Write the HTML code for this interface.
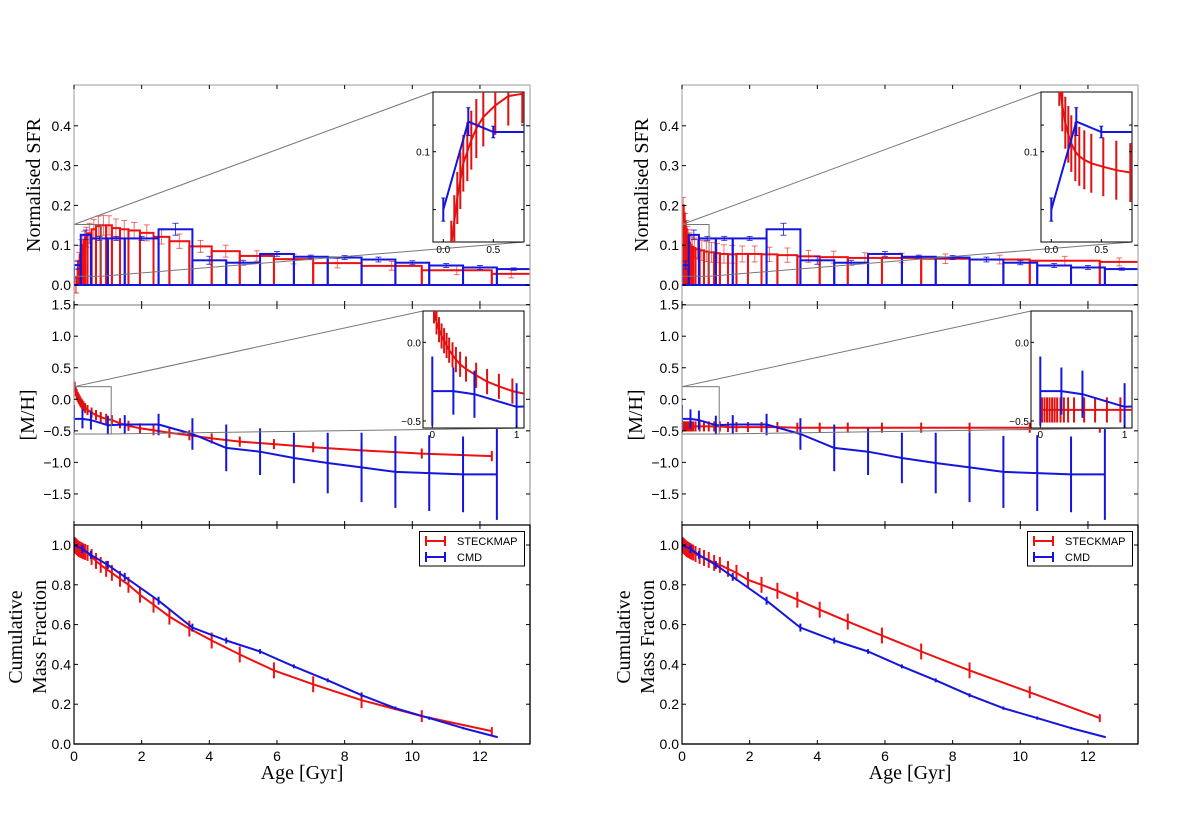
<!DOCTYPE html>
<html><head><meta charset="utf-8"><style>
html,body{margin:0;padding:0;background:#fff;}
svg{display:block;}
text{font-family:"Liberation Sans",sans-serif;}
.lab{font-family:"Liberation Serif",serif;font-size:20px;fill:#000;}
.tk{font-size:14px;fill:#000;}
.itk{font-size:10px;fill:#000;}
</style></head><body>
<svg id="fig" width="1200" height="829" viewBox="0 0 1200 829" xmlns="http://www.w3.org/2000/svg">
<defs>
<clipPath id="cp1"><rect x="74" y="85" width="456" height="219"/></clipPath>
<clipPath id="cp2"><rect x="74" y="305" width="456" height="220"/></clipPath>
<clipPath id="cp3"><rect x="74" y="525" width="456" height="219"/></clipPath>
<clipPath id="cp1r"><rect x="682" y="85" width="456" height="219"/></clipPath>
<clipPath id="cp2r"><rect x="682" y="305" width="456" height="220"/></clipPath>
<clipPath id="cp3r"><rect x="682" y="525" width="456" height="219"/></clipPath>
<clipPath id="ci1"><rect x="433" y="92" width="91" height="150"/></clipPath>
<clipPath id="ci2"><rect x="423" y="311" width="101" height="117"/></clipPath>
<clipPath id="ci1r"><rect x="1041" y="92" width="91" height="150"/></clipPath>
<clipPath id="ci2r"><rect x="1031" y="311" width="101" height="117"/></clipPath>
</defs>
</svg>
<script>
// ---- data ----
const redAges=[0.02,0.05,0.08,0.11,0.14,0.17,0.2,0.24,0.28,0.33,0.4,0.52,0.65,0.79,0.95,1.12,1.36,1.61,1.95,2.35,2.82,3.41,4.07,4.9,5.91,7.07,8.5,10.28,12.35];
const redSfrL=[0.0,0.0,0.02,0.04,0.06,0.075,0.09,0.1,0.11,0.12,0.13,0.14,0.148,0.15,0.15,0.143,0.14,0.137,0.131,0.121,0.11,0.097,0.085,0.073,0.065,0.055,0.048,0.037,0.028];
const redSfrR=[0.2,0.18,0.16,0.14,0.125,0.115,0.107,0.1,0.096,0.093,0.09,0.087,0.084,0.082,0.08,0.078,0.077,0.078,0.078,0.077,0.075,0.072,0.07,0.068,0.068,0.066,0.064,0.061,0.058];
const redSfrErr=[0.02,0.02,0.02,0.022,0.022,0.024,0.024,0.025,0.025,0.025,0.025,0.025,0.025,0.025,0.024,0.023,0.022,0.02,0.02,0.018,0.018,0.015,0.015,0.013,0.012,0.012,0.011,0.011,0.01];
const redMHL=[0.2,0.13,0.08,0.04,0.01,-0.02,-0.05,-0.08,-0.11,-0.14,-0.17,-0.21,-0.25,-0.28,-0.31,-0.33,-0.38,-0.42,-0.46,-0.49,-0.53,-0.57,-0.62,-0.67,-0.71,-0.76,-0.81,-0.86,-0.9];
const redMHR=[-0.43,-0.43,-0.43,-0.43,-0.43,-0.43,-0.43,-0.43,-0.43,-0.43,-0.43,-0.43,-0.43,-0.43,-0.43,-0.43,-0.44,-0.44,-0.44,-0.44,-0.44,-0.45,-0.45,-0.45,-0.45,-0.45,-0.45,-0.45,-0.45];
const redMHErr=[0.08,0.08,0.08,0.08,0.08,0.08,0.08,0.08,0.08,0.08,0.08,0.08,0.08,0.08,0.08,0.08,0.08,0.08,0.08,0.08,0.08,0.08,0.08,0.08,0.08,0.08,0.08,0.08,0.08];
const redCumL=[1.0,0.995,0.99,0.985,0.98,0.978,0.975,0.972,0.968,0.965,0.96,0.94,0.92,0.9,0.88,0.86,0.83,0.8,0.75,0.7,0.64,0.58,0.52,0.45,0.37,0.3,0.22,0.14,0.065];
const redCumR=[1.0,0.995,0.99,0.985,0.98,0.977,0.974,0.97,0.966,0.962,0.955,0.945,0.935,0.925,0.91,0.9,0.88,0.86,0.825,0.8,0.77,0.725,0.675,0.615,0.545,0.465,0.37,0.26,0.13];
const redCumErr=[0.04,0.04,0.04,0.04,0.04,0.04,0.04,0.04,0.04,0.04,0.04,0.04,0.04,0.04,0.04,0.04,0.04,0.04,0.04,0.04,0.04,0.04,0.04,0.04,0.04,0.04,0.04,0.03,0.02];
const cmdEdges=[0,0.2,0.5,1,1.5,2.5,3.5,4.5,5.5,6.5,7.5,8.5,9.5,10.5,11.5,12.5,13.5];
const cmdSfr=[0.05,0.126,0.117,0.117,0.117,0.14,0.062,0.056,0.078,0.071,0.069,0.064,0.056,0.049,0.044,0.04];
const cmdSfrErr=[0.01,0.012,0.005,0.005,0.005,0.015,0.01,0.006,0.006,0.004,0.005,0.006,0.005,0.005,0.005,0.003];
const cmdAges=[0,0.25,0.5,1,1.5,2.5,3.5,4.5,5.5,6.5,7.5,8.5,9.5,10.5,11.5,12.5];
const cmdMH=[-0.31,-0.31,-0.33,-0.41,-0.4,-0.4,-0.55,-0.77,-0.83,-0.93,-1.01,-1.08,-1.15,-1.17,-1.19,-1.19];
const cmdMHErr=[0.22,0.15,0.15,0.15,0.15,0.17,0.25,0.37,0.37,0.4,0.48,0.55,0.57,0.6,0.6,0.72];
const cmdCum=[1.0,0.98,0.95,0.9,0.84,0.72,0.585,0.52,0.465,0.39,0.32,0.245,0.18,0.13,0.08,0.035];
const cmdCumErr=[0.03,0.02,0.02,0.02,0.02,0.02,0.02,0.015,0.012,0.01,0.01,0.01,0.008,0.008,0.006,0.004];
const xTicks=[0,2,4,6,8,10,12];
const sfrTicks=[0,0.1,0.2,0.3,0.4];
const mhTicks=[1.5,1.0,0.5,0.0,-0.5,-1.0,-1.5];
const cumTicks=[0,0.2,0.4,0.6,0.8,1.0];

const svg=document.getElementById('fig');
const NS='http://www.w3.org/2000/svg';
function el(tag,at,parent){const e=document.createElementNS(NS,tag);for(const k in at)e.setAttribute(k,at[k]);(parent||svg).appendChild(e);return e;}
const RED='#ee1111',BLUE='#1515dd';

function fmt(v,d){return (v<0?'\u2212':'')+Math.abs(v).toFixed(d);}

function errbar(g,x,y1,y2,col,w,cap,op){
  el('line',{x1:x,y1:y1,x2:x,y2:y2,stroke:col,'stroke-width':w,'stroke-opacity':op},g);
  el('line',{x1:x-cap,y1:y1,x2:x+cap,y2:y1,stroke:col,'stroke-width':1,'stroke-opacity':op},g);
  el('line',{x1:x-cap,y1:y2,x2:x+cap,y2:y2,stroke:col,'stroke-width':1,'stroke-opacity':op},g);
}
function polyline(g,xs,ys,col,w){
  let p=xs.map((x,i)=>x.toFixed(1)+','+ys[i].toFixed(1)).join(' ');
  el('polyline',{points:p,fill:'none',stroke:col,'stroke-width':w,'stroke-linejoin':'round'},g);
}

function drawFigure(ox,side){
  const suf=side==='L'?'':'r';
  const X=a=>ox+74+a*33.83;
  const Y1=v=>285-v*398;
  const Y2=v=>399.3-v*63.1;
  const Y3=v=>744-v*199;
  const redSfr=side==='L'?redSfrL:redSfrR;
  const redMH=side==='L'?redMHL:redMHR;
  const redCum=side==='L'?redCumL:redCumR;
  const fig=el('g',{});
  
  

  // ---------- panel 1: SFR ----------
  const p1=el('g',{'clip-path':'url(#cp1'+suf+')'},fig);
  
  
  redAges.forEach((a,i)=>{
    const a2=i<redAges.length-1?redAges[i+1]:13.5;
    const r=el('rect',{x:X(a),y:Y1(redSfr[i]),width:X(a2)-X(a),height:Y1(0)-Y1(redSfr[i]),fill:'none',stroke:RED,'stroke-width':2},p1);
    
    
    const m=(X(a)+X(a2))/2;
    errbar(p1,m,Y1(redSfr[i]+redSfrErr[i]),Y1(redSfr[i]-redSfrErr[i]),RED,1,3,0.6);
  });
  cmdSfr.forEach((v,i)=>{
    const r=el('rect',{x:X(cmdEdges[i]),y:Y1(v),width:X(cmdEdges[i+1])-X(cmdEdges[i]),height:Y1(0)-Y1(v),fill:'none',stroke:BLUE,'stroke-width':2},p1);
    
    
    const m=(X(cmdEdges[i])+X(cmdEdges[i+1]))/2;
    errbar(p1,m,Y1(v+cmdSfrErr[i]),Y1(v-cmdSfrErr[i]),BLUE,1,3,0.8);
  });
  // inset 1
  const ix1=ox+433, iy1=92, iw1=91, ih1=150;
  const IX1=a=>ox+443.3+a*100, IY1=v=>151.7-(v-0.1)*1158;
  const bl=el('rect',{x:X(0),y:Y1(0.152),width:X(0.8)-X(0),height:Y1(0.022)-Y1(0.152),fill:'none',stroke:'#777','stroke-width':1},fig);
  
  
  el('line',{x1:X(0),y1:Y1(0.152),x2:ix1,y2:iy1,stroke:'#777','stroke-width':1},fig);
  el('line',{x1:X(0.8),y1:Y1(0.022),x2:ix1+iw1,y2:iy1+ih1,stroke:'#777','stroke-width':1},fig);
  const ib1=el('rect',{x:ix1,y:iy1,width:iw1,height:ih1,fill:'#fff',stroke:'#000','stroke-width':1},fig);
  
  
  const ig1=el('g',{'clip-path':'url(#ci1'+suf+')'},fig);
  polyline(ig1,redAges.map(IX1),redSfr.map(IY1),RED,2);
  redAges.forEach((a,i)=>errbar(ig1,IX1(a),IY1(redSfr[i]+redSfrErr[i]),IY1(redSfr[i]-redSfrErr[i]),'#dd1111',2,1,1));
  const cmdPt=cmdAges.map(a=>{for(let i=0;i<cmdSfr.length;i++){if(a>=cmdEdges[i]&&a<cmdEdges[i+1])return cmdSfr[i];}return cmdSfr[cmdSfr.length-1];});
  polyline(ig1,cmdAges.map(IX1),cmdPt.map(IY1),BLUE,2);
  cmdAges.forEach((a,i)=>errbar(ig1,IX1(a),IY1(cmdPt[i]+cmdSfrErr[i]),IY1(cmdPt[i]-cmdSfrErr[i]),BLUE,2,2,1));
  [0,0.5].forEach(t=>{
    el('line',{x1:IX1(t),y1:iy1+ih1,x2:IX1(t),y2:iy1+ih1-3,stroke:'#000'},fig);
    const tt=el('text',{x:IX1(t),y:iy1+ih1+11,'text-anchor':'middle',class:'itk'},fig);tt.textContent=t.toFixed(1);
  });
  [0.05,0.1,0.123].forEach(t=>{
    el('line',{x1:ix1,y1:IY1(t),x2:ix1+3,y2:IY1(t),stroke:'#000'},fig);
    el('line',{x1:ix1+iw1,y1:IY1(t),x2:ix1+iw1-3,y2:IY1(t),stroke:'#000'},fig);
  });
  const it1=el('text',{x:ix1-3,y:IY1(0.1)+4,'text-anchor':'end',class:'itk'},fig);it1.textContent='0.1';

  // ---------- panel 2: [M/H] ----------
  const p2=el('g',{'clip-path':'url(#cp2'+suf+')'},fig);
  
  
  polyline(p2,redAges.map(X),redMH.map(Y2),RED,2);
  redAges.forEach((a,i)=>errbar(p2,X(a),Y2(redMH[i]+redMHErr[i]),Y2(redMH[i]-redMHErr[i]),'#dd1111',2,0,1));
  polyline(p2,cmdAges.map(X),cmdMH.map(Y2),BLUE,2);
  cmdAges.forEach((a,i)=>errbar(p2,X(a),Y2(cmdMH[i]+cmdMHErr[i]),Y2(cmdMH[i]-cmdMHErr[i]),BLUE,2,0,1));
  const ix2=ox+423, iy2=311, iw2=101, ih2=117;
  const IX2=a=>ox+432.3+a*84.3, IY2=v=>342.3-v*157.3;
  const bl2=el('rect',{x:X(0),y:Y2(0.2),width:X(1.1)-X(0),height:Y2(-0.55)-Y2(0.2),fill:'none',stroke:'#777','stroke-width':1},fig);
  
  
  el('line',{x1:X(0),y1:Y2(0.2),x2:ix2,y2:iy2,stroke:'#777','stroke-width':1},fig);
  el('line',{x1:X(1.1),y1:Y2(-0.55),x2:ix2+iw2,y2:iy2+ih2,stroke:'#777','stroke-width':1},fig);
  const ib2=el('rect',{x:ix2,y:iy2,width:iw2,height:ih2,fill:'#fff',stroke:'#000','stroke-width':1},fig);
  
  
  const ig2=el('g',{'clip-path':'url(#ci2'+suf+')'},fig);
  polyline(ig2,redAges.map(IX2),redMH.map(IY2),RED,2);
  redAges.forEach((a,i)=>errbar(ig2,IX2(a),IY2(redMH[i]+redMHErr[i]),IY2(redMH[i]-redMHErr[i]),'#dd1111',2,0,1));
  polyline(ig2,cmdAges.map(IX2),cmdMH.map(IY2),BLUE,2);
  cmdAges.forEach((a,i)=>errbar(ig2,IX2(a),IY2(cmdMH[i]+cmdMHErr[i]),IY2(cmdMH[i]-cmdMHErr[i]),BLUE,2,0,1));
  [0,1].forEach(t=>{
    el('line',{x1:IX2(t),y1:iy2+ih2,x2:IX2(t),y2:iy2+ih2-3,stroke:'#000'},fig);
    const tt=el('text',{x:IX2(t),y:iy2+ih2+10,'text-anchor':'middle',class:'itk'},fig);tt.textContent=String(t);
  });
  [0,-0.5].forEach(t=>{
    el('line',{x1:ix2,y1:IY2(t),x2:ix2+3,y2:IY2(t),stroke:'#000'},fig);
    const tt=el('text',{x:ix2-2,y:IY2(t)+4,'text-anchor':'end',class:'itk'},fig);tt.textContent=fmt(t,1);
  });

  // ---------- panel 3: cumulative ----------
  const p3=el('g',{'clip-path':'url(#cp3'+suf+')'},fig);
  
  
  polyline(p3,redAges.map(X),redCum.map(Y3),RED,2);
  redAges.forEach((a,i)=>errbar(p3,X(a),Y3(redCum[i]+redCumErr[i]),Y3(redCum[i]-redCumErr[i]),RED,2,0,1));
  polyline(p3,cmdAges.map(X),cmdCum.map(Y3),BLUE,2);
  cmdAges.forEach((a,i)=>errbar(p3,X(a),Y3(cmdCum[i]+cmdCumErr[i]),Y3(cmdCum[i]-cmdCumErr[i]),BLUE,2,0,1));

  // ---------- axes frames & ticks ----------
  const L=X(0), R=ox+530;
  const frames=[[85,305,'#aaa'],[305,525,'#999'],[525,744,'#000']];
  frames.forEach(f=>el('rect',{x:L,y:f[0],width:R-L,height:f[1]-f[0],fill:'none',stroke:f[2],'stroke-width':1.2},fig));
  el('line',{x1:L,y1:744,x2:R,y2:744,stroke:'#000','stroke-width':1.2},fig);
  el('line',{x1:R,y1:525,x2:R,y2:744,stroke:'#000','stroke-width':1.2},fig);
  [[85,305],[305,525],[525,744]].forEach(f=>{
    xTicks.forEach(t=>{
      el('line',{x1:X(t),y1:f[0],x2:X(t),y2:f[0]+4,stroke:'#000'},fig);
      el('line',{x1:X(t),y1:f[1],x2:X(t),y2:f[1]-4,stroke:'#000'},fig);
    });
  });
  xTicks.forEach(t=>{const tt=el('text',{x:X(t),y:761,'text-anchor':'middle',class:'tk'},fig);tt.textContent=String(t);});
  const yt=(ticks,Y,d)=>ticks.forEach(t=>{
    el('line',{x1:L,y1:Y(t),x2:L+4,y2:Y(t),stroke:'#000'},fig);
    el('line',{x1:R,y1:Y(t),x2:R-4,y2:Y(t),stroke:'#000'},fig);
    const tt=el('text',{x:L-3,y:Y(t)+5,'text-anchor':'end',class:'tk'},fig);tt.textContent=fmt(t,d);
  });
  yt(sfrTicks,Y1,1);yt(mhTicks,Y2,1);yt(cumTicks,Y3,1);

  // labels
  const l1=el('text',{x:0,y:0,class:'lab','text-anchor':'middle',transform:`translate(${ox+40},185) rotate(-90)`},fig);l1.textContent='Normalised SFR';
  
  const l2=el('text',{x:0,y:0,class:'lab','text-anchor':'middle',transform:`translate(${ox+34},415) rotate(-90)`},fig);l2.textContent='[M/H]';
  
  const l3=el('text',{x:0,y:0,class:'lab','text-anchor':'middle',transform:`translate(${ox+22},637) rotate(-90)`},fig);l3.textContent='Cumulative';
  
  const l4=el('text',{x:0,y:0,class:'lab','text-anchor':'middle',transform:`translate(${ox+46},637) rotate(-90)`},fig);l4.textContent='Mass Fraction';
  
  const l5=el('text',{x:ox+302,y:779,class:'lab','text-anchor':'middle'},fig);l5.textContent='Age [Gyr]';
  

  // legend
  const lg=el('g',{},fig);
  
  
  el('rect',{x:ox+419.5,y:531.5,width:105,height:34.5,fill:'#fff',stroke:'#000','stroke-width':1},lg);
  [['STECKMAP',RED,541],['CMD',BLUE,557]].forEach(e=>{
    const ge=el('g',{},lg);
    
    
    el('line',{x1:ox+426,y1:e[2],x2:ox+445,y2:e[2],stroke:e[1],'stroke-width':2},ge);
    el('line',{x1:ox+426,y1:e[2]-5,x2:ox+426,y2:e[2]+5,stroke:e[1],'stroke-width':2},ge);
    el('line',{x1:ox+445,y1:e[2]-5,x2:ox+445,y2:e[2]+5,stroke:e[1],'stroke-width':2},ge);
    const tt=el('text',{x:ox+457,y:e[2]+4,style:'font-size:11px'},ge);tt.textContent=e[0];
  });
}
drawFigure(0,'L');
drawFigure(608,'R');
</script>
</body></html>
